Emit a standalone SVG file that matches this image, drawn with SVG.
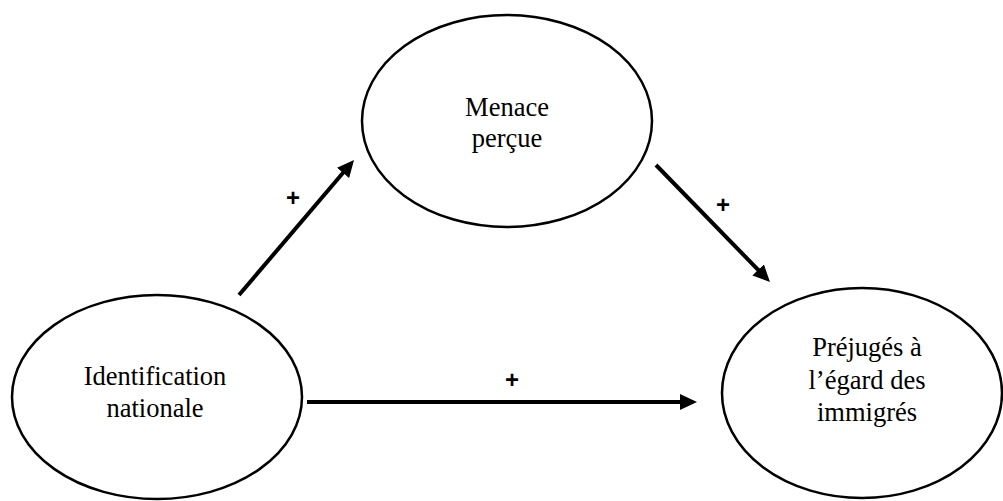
<svg xmlns="http://www.w3.org/2000/svg" width="1003" height="501" viewBox="0 0 1003 501">
<style>
.node{fill:#fff;stroke:#000;stroke-width:2.5}
.lbl{font-family:"Liberation Serif","Times New Roman","DejaVu Serif",serif;font-size:26.5px;fill:#000;text-anchor:middle}
.edge{stroke:#000;stroke-width:4;fill:none}
.sign{font-family:"Liberation Sans",Arial,sans-serif;font-size:24px;font-weight:bold;fill:#000;text-anchor:middle}
</style>
<defs>
<marker id="arr" markerUnits="userSpaceOnUse" markerWidth="17" markerHeight="16" refX="8" refY="8" orient="auto" viewBox="0 0 17 16">
<path d="M0,0 L17,8 L0,16 z" fill="#000"/>
</marker>
</defs>
<rect width="1003" height="501" fill="#fff"/>
<g id="node-identification">
<ellipse class="node" cx="157" cy="397" rx="145" ry="102"/>
<text class="lbl" x="155" y="385">Identification</text>
<text class="lbl" x="155" y="417">nationale</text>
</g>
<g id="node-menace">
<ellipse class="node" cx="507" cy="121" rx="145" ry="106"/>
<text class="lbl" x="507" y="116">Menace</text>
<text class="lbl" x="507" y="147">perçue</text>
</g>
<g id="node-prejuges">
<ellipse class="node" cx="862" cy="393" rx="140" ry="105"/>
<text class="lbl" x="867" y="356">Préjugés à</text>
<text class="lbl" x="867" y="389">l’égard des</text>
<text class="lbl" x="867" y="421">immigrés</text>
</g>
<g id="connectors">
<line class="edge" x1="239" y1="295" x2="348.2" y2="166.8" marker-end="url(#arr)"/>
<line class="edge" x1="656" y1="165" x2="763.7" y2="275.6" marker-end="url(#arr)"/>
<line class="edge" x1="307" y1="402" x2="688" y2="402" marker-end="url(#arr)"/>
<text class="sign" x="293" y="206">+</text>
<text class="sign" x="723" y="213">+</text>
<text class="sign" x="512" y="388">+</text>
</g>
</svg>
